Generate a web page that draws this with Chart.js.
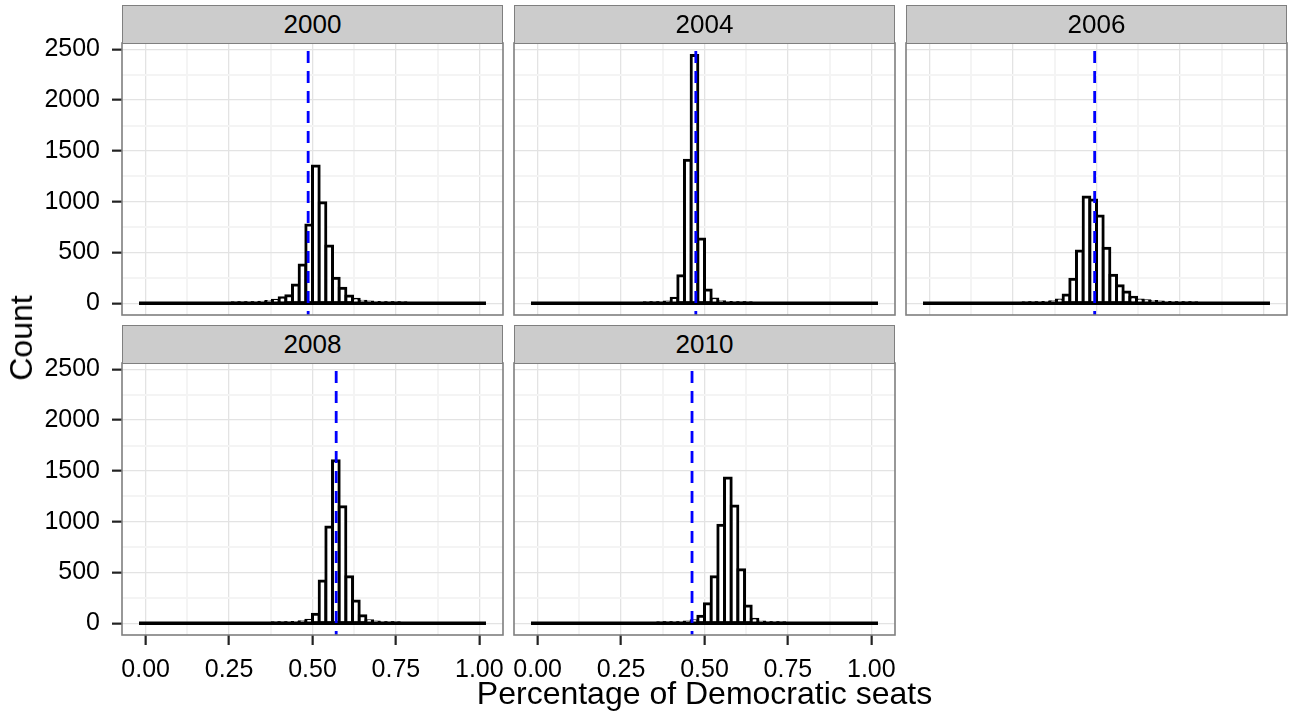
<!DOCTYPE html>
<html>
<head>
<meta charset="utf-8">
<script src="https://cdn.jsdelivr.net/npm/chart.js@4.4.1/dist/chart.umd.min.js"></script>
<style>
  html, body { margin: 0; padding: 0; background: #ffffff; }
  #wrap { position: relative; width: 1292px; height: 715px; overflow: hidden;
          font-family: 'Liberation Sans', Arial, Helvetica, sans-serif; }
  #wrap canvas { position: absolute; }
  .strip { position: absolute; box-sizing: border-box; background: #cccccc;
           border: 1px solid #7f7f7f; color: #000; font-size: 26px; text-align: center; }
  .axis-title { position: absolute; color: #000; font-size: 32px; line-height: 32px; white-space: nowrap; }
</style>
</head>
<body>
<div id="wrap"></div>
<script>
// Facet labels (election years)
const years = ['2000', '2004', '2006', '2008', '2010'];

// Histogram bins: centres of 0.02-wide bins from -0.02 to 1.02
const binWidth = 0.02;
const binCenters = [
  -0.01, 0.01, 0.03, 0.05, 0.07, 0.09, 0.11, 0.13, 0.15, 0.17,
   0.19, 0.21, 0.23, 0.25, 0.27, 0.29, 0.31, 0.33, 0.35, 0.37,
   0.39, 0.41, 0.43, 0.45, 0.47, 0.49, 0.51, 0.53, 0.55, 0.57,
   0.59, 0.61, 0.63, 0.65, 0.67, 0.69, 0.71, 0.73, 0.75, 0.77,
   0.79, 0.81, 0.83, 0.85, 0.87, 0.89, 0.91, 0.93, 0.95, 0.97,
   0.99, 1.01
];

// Simulated counts per bin, one array per year
const counts2000 = [
  0, 0, 0, 0, 0, 0, 0, 0, 0, 0,
  0, 0, 0, 0, 1, 2, 3, 6, 10, 18,
  30, 55, 75, 180, 377, 771, 1351, 990, 564, 246,
  148, 72, 39, 20, 12, 8, 5, 3, 2, 1,
  0, 0, 0, 0, 0, 0, 0, 0, 0, 0,
  0, 0
];
const counts2004 = [
  0, 0, 0, 0, 0, 0, 0, 0, 0, 0,
  0, 0, 0, 0, 0, 0, 0, 1, 2, 5,
  12, 49, 272, 1407, 2440, 633, 131, 42, 15, 8,
  4, 2, 1, 0, 0, 0, 0, 0, 0, 0,
  0, 0, 0, 0, 0, 0, 0, 0, 0, 0,
  0, 0
];
const counts2006 = [
  0, 0, 0, 0, 0, 0, 0, 0, 0, 0,
  0, 0, 0, 0, 0, 1, 2, 4, 8, 15,
  33, 82, 236, 515, 1046, 1017, 859, 541, 276, 173,
  111, 59, 32, 25, 18, 12, 8, 5, 3, 2,
  1, 0, 0, 0, 0, 0, 0, 0, 0, 0,
  0, 0
];
const counts2008 = [
  0, 0, 0, 0, 0, 0, 0, 0, 0, 0,
  0, 0, 0, 0, 0, 0, 0, 0, 0, 0,
  1, 2, 4, 8, 15, 30, 88, 416, 948, 1600,
  1148, 459, 219, 75, 25, 12, 6, 3, 1, 0,
  0, 0, 0, 0, 0, 0, 0, 0, 0, 0,
  0, 0
];
const counts2010 = [
  0, 0, 0, 0, 0, 0, 0, 0, 0, 0,
  0, 0, 0, 0, 0, 0, 0, 0, 0, 1,
  2, 3, 6, 12, 25, 69, 193, 459, 964, 1430,
  1155, 528, 170, 39, 14, 6, 3, 1, 0, 0,
  0, 0, 0, 0, 0, 0, 0, 0, 0, 0,
  0, 0
];
const countsByYear = [counts2000, counts2004, counts2006, counts2008, counts2010];

// Actual Democratic seat share for each year (dashed reference line)
const actualShare = [0.487, 0.474, 0.4945, 0.571, 0.4626];

// Axis tick labels
const xTickLabels = ['0.00', '0.25', '0.50', '0.75', '1.00'];
const yTickLabels = ['0', '500', '1000', '1500', '2000', '2500'];

// ---- layout and styling ----
const FONT = "'Liberation Sans', Arial, Helvetica, sans-serif";
const X_MIN = -0.071, X_MAX = 1.071;
const Y_MIN = -115, Y_MAX = 2562;
const AXW = 122, AXH = 62, PADT = 34, PADR = 16;
const colLeft = [122, 514, 906], PW = 381;
const rowTop = [43, 363], PH = 272;
const STRIP_H = 39;
const MAJOR = '#e3e3e3', MINOR = '#f4f4f4';

Chart.defaults.font.family = FONT;

function tickText(list, value) {
  const hit = list.find(s => Math.abs(parseFloat(s) - value) < 1e-9);
  return hit === undefined ? '' : hit;
}
function isMajor(list, ctx) {
  return !!(ctx.tick && tickText(list, ctx.tick.value) !== '');
}

// Grey border around each panel's plotting area
const panelFrame = {
  id: 'panelFrame',
  afterDraw(chart) {
    const { ctx, chartArea: a } = chart;
    ctx.save();
    ctx.strokeStyle = '#7f7f7f';
    ctx.lineWidth = 1.6;
    ctx.strokeRect(a.left, a.top, a.right - a.left, a.bottom - a.top);
    ctx.restore();
  }
};

const wrap = document.getElementById('wrap');

years.forEach((year, idx) => {
  const col = idx % 3, row = Math.floor(idx / 3);
  const showY = col === 0;
  const showX = row === 1;
  const counts = countsByYear[idx];

  const cv = document.createElement('canvas');
  cv.width = AXW + PW + PADR;
  cv.height = PADT + PH + AXH;
  cv.style.left = (colLeft[col] - AXW) + 'px';
  cv.style.top = (rowTop[row] - PADT) + 'px';
  wrap.appendChild(cv);

  new Chart(cv, {
    type: 'bar',
    data: {
      datasets: [
        {
          type: 'line',
          data: [{ x: actualShare[idx], y: Y_MAX }, { x: actualShare[idx], y: Y_MIN }],
          borderColor: '#0000ff',
          borderWidth: 2.8,
          borderDash: [12, 8],
          borderDashOffset: 12,
          pointRadius: 0,
          fill: false
        },
        {
          type: 'line',
          data: [
            { x: binCenters[0] - binWidth / 2, y: 0 },
            { x: binCenters[binCenters.length - 1] + binWidth / 2, y: 0 }
          ],
          borderColor: '#000000',
          borderWidth: 3.4,
          pointRadius: 0,
          fill: false
        },
        {
          type: 'bar',
          data: binCenters.map((c, i) => ({ x: c, y: counts[i] })),
          backgroundColor: '#ffffff',
          borderColor: '#000000',
          borderWidth: 3,
          borderSkipped: false,
          inflateAmount: 1.5,
          barPercentage: 1,
          categoryPercentage: 1
        }
      ]
    },
    options: {
      responsive: false,
      animation: false,
      events: [],
      layout: { padding: { top: PADT, right: PADR, left: 0, bottom: 0 } },
      plugins: { legend: { display: false }, tooltip: { enabled: false } },
      scales: {
        x: {
          type: 'linear',
          min: X_MIN,
          max: X_MAX,
          offset: false,
          border: { display: false },
          ticks: {
            display: showX,
            stepSize: 0.125,
            includeBounds: false,
            autoSkip: false,
            maxRotation: 0,
            padding: 10,
            color: '#000000',
            font: { size: 25, family: FONT },
            callback: v => tickText(xTickLabels, v)
          },
          grid: {
            offset: false,
            color: c => isMajor(xTickLabels, c) ? MAJOR : MINOR,
            lineWidth: c => isMajor(xTickLabels, c) ? 1.3 : 2,
            tickLength: 10,
            tickWidth: 2.2,
            tickColor: c => (showX && isMajor(xTickLabels, c)) ? '#222222' : 'rgba(0,0,0,0)'
          },
          afterFit: s => { s.height = AXH; }
        },
        y: {
          type: 'linear',
          min: Y_MIN,
          max: Y_MAX,
          border: { display: false },
          ticks: {
            display: showY,
            stepSize: 250,
            includeBounds: false,
            autoSkip: false,
            padding: 12,
            color: '#000000',
            font: { size: 25, family: FONT },
            callback: v => tickText(yTickLabels, v)
          },
          grid: {
            color: c => isMajor(yTickLabels, c) ? MAJOR : MINOR,
            lineWidth: c => isMajor(yTickLabels, c) ? 1.3 : 2,
            tickLength: 10,
            tickWidth: 2.2,
            tickColor: c => (showY && isMajor(yTickLabels, c)) ? '#222222' : 'rgba(0,0,0,0)'
          },
          afterFit: s => { s.width = AXW; }
        }
      }
    },
    plugins: [panelFrame]
  });
});

// Facet strips
years.forEach((year, idx) => {
  const col = idx % 3, row = Math.floor(idx / 3);
  const s = document.createElement('div');
  s.className = 'strip';
  s.style.left = colLeft[col] + 'px';
  s.style.top = (rowTop[row] - STRIP_H + 1) + 'px';
  s.style.width = PW + 'px';
  s.style.height = STRIP_H + 'px';
  s.style.lineHeight = (STRIP_H - 2) + 'px';
  s.textContent = year;
  wrap.appendChild(s);
});

// Axis titles
const xTitle = document.createElement('div');
xTitle.className = 'axis-title';
xTitle.style.left = colLeft[0] + 'px';
xTitle.style.width = (colLeft[2] + PW - colLeft[0]) + 'px';
xTitle.style.textAlign = 'center';
xTitle.style.top = '677px';
xTitle.textContent = 'Percentage of Democratic seats';
wrap.appendChild(xTitle);

const yTitle = document.createElement('div');
yTitle.className = 'axis-title';
yTitle.style.left = '20.5px';
yTitle.style.top = '338px';
yTitle.style.transform = 'translate(-50%, -50%) rotate(-90deg)';
yTitle.textContent = 'Count';
wrap.appendChild(yTitle);
</script>
</body>
</html>
